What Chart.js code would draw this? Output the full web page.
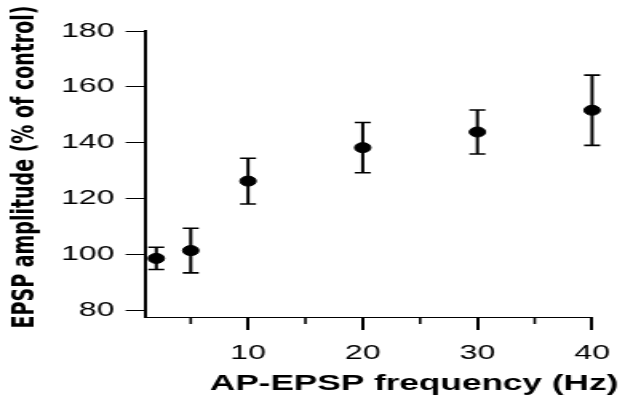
<!DOCTYPE html>
<html>
<head>
<meta charset="utf-8">
<script src="https://cdn.jsdelivr.net/npm/chart.js@4"></script>
<style>
  html, body { margin: 0; padding: 0; background: #fff; overflow: hidden; }
  #chart { display: block; }
</style>
</head>
<body>
<!-- the source figure is stretched sideways, so draw narrow and stretch the canvas -->
<canvas id="chart" width="396" height="395" style="width:633px;height:395px"></canvas>
<script>
// values
var freqs = [2, 5, 10, 20, 30, 40];
var amplitude = [98.5, 101.3, 126.2, 138.2, 143.8, 151.6];
var errors = [4, 8, 8.2, 9, 7.9, 12.6];

var yTicks = [80, 100, 120, 140, 160, 180];
var xMajorTicks = [10, 20, 30, 40];
var xMinorTicks = [5, 15, 25, 35];

var xTitle = 'AP-EPSP frequency (Hz)';
var yTitle = 'EPSP amplitude (% of control)';

// error bars, minor ticks and axis titles
var extras = {
  id: 'extras',
  beforeDatasetsDraw: function(chart) {
    var ctx = chart.ctx, xs = chart.scales.x, ys = chart.scales.y;
    ctx.save();
    ctx.strokeStyle = '#000';
    for (var i = 0; i < freqs.length; i++) {
      var px = xs.getPixelForValue(freqs[i]);
      var top = ys.getPixelForValue(amplitude[i] + errors[i]);
      var bot = ys.getPixelForValue(amplitude[i] - errors[i]);
      ctx.lineWidth = 2;
      ctx.beginPath();
      ctx.moveTo(px, top);
      ctx.lineTo(px, bot);
      ctx.stroke();
      ctx.lineWidth = 1.6;
      ctx.beginPath();
      ctx.moveTo(px - 5, top);
      ctx.lineTo(px + 5, top);
      ctx.moveTo(px - 5, bot);
      ctx.lineTo(px + 5, bot);
      ctx.stroke();
    }
    ctx.restore();
  },
  afterDraw: function(chart) {
    var ctx = chart.ctx, xs = chart.scales.x, area = chart.chartArea;
    ctx.save();
    ctx.strokeStyle = '#000';
    ctx.lineWidth = 1.6;
    xMinorTicks.forEach(function(v) {
      var px = xs.getPixelForValue(v);
      ctx.beginPath();
      ctx.moveTo(px, area.bottom);
      ctx.lineTo(px, area.bottom + 7);
      ctx.stroke();
    });

    ctx.fillStyle = '#000';
    ctx.textAlign = 'center';
    ctx.textBaseline = 'alphabetic';
    ctx.font = 'bold 22px "Liberation Sans"';
    ctx.fillText(xTitle, 259, 390);

    ctx.translate(16, 167);
    ctx.rotate(-Math.PI / 2);
    ctx.textBaseline = 'middle';
    ctx.font = 'bold 19px "DejaVu Sans"';
    ctx.fillText(yTitle, 0, 0);
    ctx.restore();
  }
};

var tickFont = { family: 'Liberation Sans', size: 20 };

new Chart(document.getElementById('chart'), {
  type: 'scatter',
  data: {
    datasets: [{
      data: freqs.map(function(f, i) { return { x: f, y: amplitude[i] }; }),
      pointRadius: 5,
      pointHoverRadius: 5,
      backgroundColor: '#000',
      borderColor: '#000',
      clip: false
    }]
  },
  options: {
    responsive: false,
    animation: false,
    devicePixelRatio: 1,
    layout: { padding: { top: 31, right: 25.6, bottom: 0, left: 0 } },
    plugins: { legend: { display: false }, tooltip: { enabled: false } },
    scales: {
      x: {
        type: 'linear',
        min: 1,
        max: 40,
        afterBuildTicks: function(s) { s.ticks = xMajorTicks.map(function(v) { return { value: v }; }); },
        afterFit: function(s) { s.height = 78; },
        grid: { drawOnChartArea: false, tickLength: 13, lineWidth: 2, color: '#000' },
        border: { color: '#000', width: 1 },
        ticks: { color: '#000', font: tickFont, padding: 11, maxRotation: 0, autoSkip: false }
      },
      y: {
        min: 77.5,
        max: 180,
        afterBuildTicks: function(s) { s.ticks = yTicks.map(function(v) { return { value: v }; }); },
        afterFit: function(s) { s.width = 90.6; },
        grid: { drawOnChartArea: false, tickLength: 12, lineWidth: 1, color: '#000' },
        border: { color: '#000', width: 2 },
        ticks: { color: '#000', font: tickFont, padding: 7, autoSkip: false }
      }
    }
  },
  plugins: [extras]
});
</script>
</body>
</html>
